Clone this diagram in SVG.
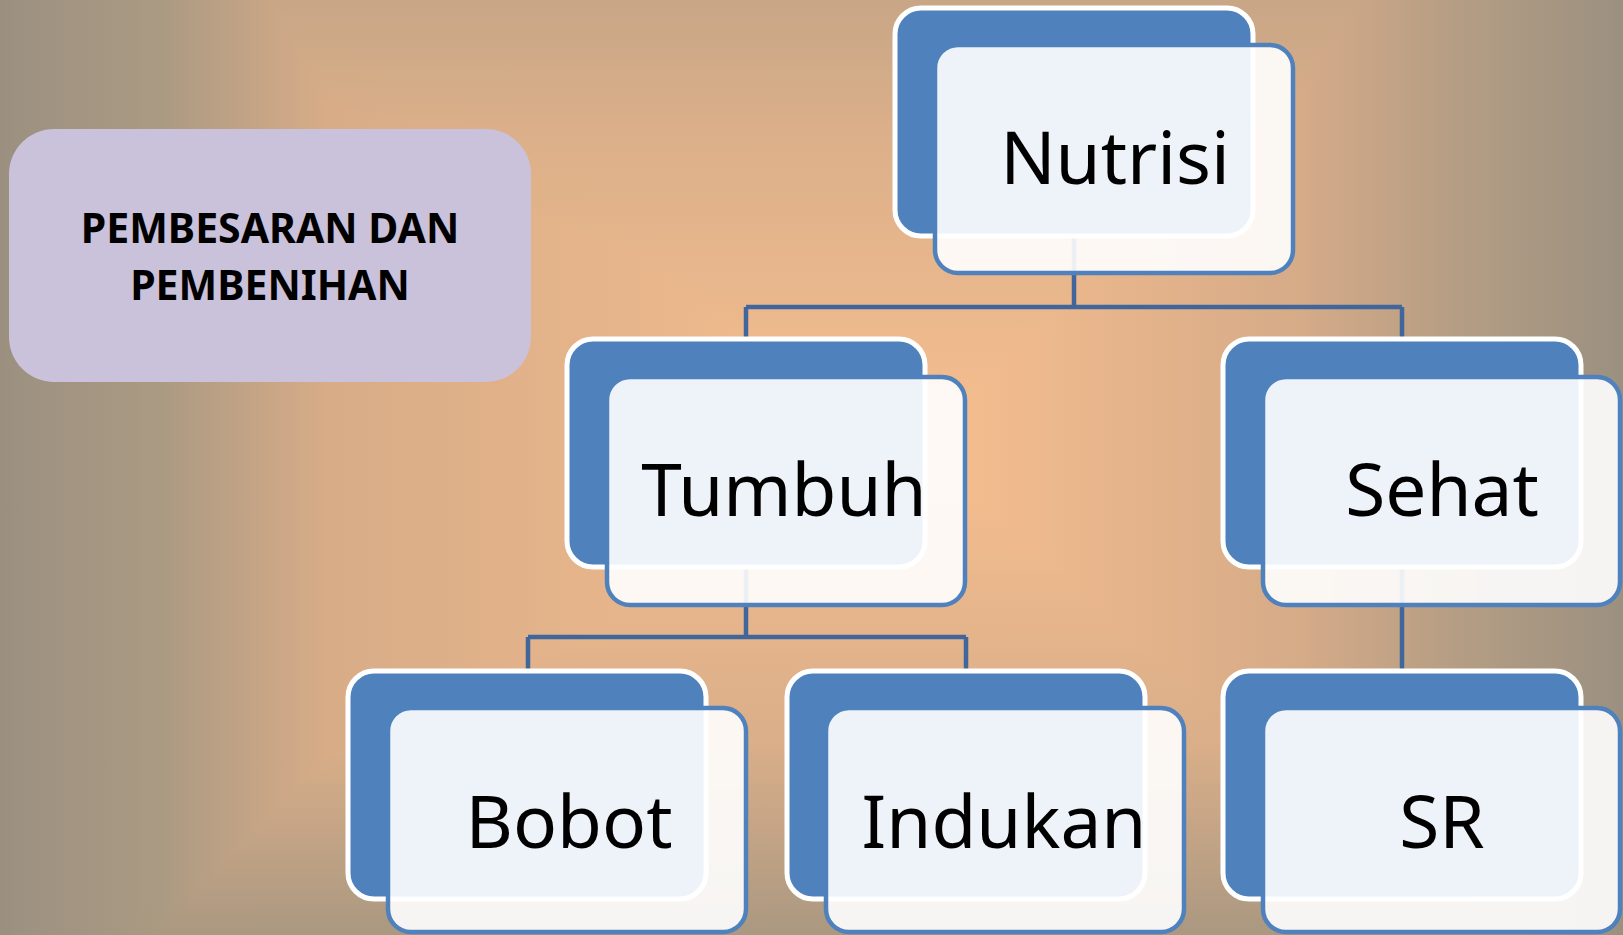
<svg xmlns="http://www.w3.org/2000/svg" width="1623" height="935" viewBox="0 0 1623 935">
<defs>
<linearGradient id="gh" gradientUnits="userSpaceOnUse" x1="0" y1="0" x2="1623" y2="0">
<stop offset="0" stop-color="#9b9080"/>
<stop offset="0.1" stop-color="#ab9a83"/>
<stop offset="0.2" stop-color="#d7ac87"/>
<stop offset="0.57" stop-color="#f7be8f"/>
<stop offset="0.8" stop-color="#d6ab88"/>
<stop offset="0.9" stop-color="#b49d84"/>
<stop offset="1" stop-color="#9b9080"/>
</linearGradient>
<linearGradient id="gv" gradientUnits="userSpaceOnUse" x1="0" y1="0" x2="0" y2="935">
<stop offset="0" stop-color="#c8a686"/>
<stop offset="0.15" stop-color="#dcb08a"/>
<stop offset="0.48" stop-color="#f7be8f"/>
<stop offset="0.8" stop-color="#d9ae89"/>
<stop offset="1" stop-color="#aa9881"/>
</linearGradient>
<style>
.back{fill:#4f81bd;stroke:#ffffff;stroke-width:5}
.front{fill:#ffffff;fill-opacity:0.9;stroke:#4f81bd;stroke-width:4.5}
.lbl{font-family:"Noto Sans","Open Sans",sans-serif;font-size:73px;fill:#000000;text-anchor:middle}
.conn{fill:none;stroke:#41669b;stroke-width:4.5}
.title{font-family:"Noto Sans","Open Sans",sans-serif;font-size:41px;font-weight:bold;fill:#000000;text-anchor:middle}
</style>
</defs>
<g id="background" style="isolation:isolate">
<rect x="0" y="0" width="1623" height="935" fill="url(#gv)"/>
<rect x="0" y="0" width="1623" height="935" fill="url(#gh)" style="mix-blend-mode:darken"/>
</g>
<g id="title-box">
<rect x="9" y="129" width="522" height="253" rx="45" fill="#cac1da"/>
<text class="title" x="270" y="243">PEMBESARAN DAN</text>
<text class="title" x="270" y="300">PEMBENIHAN</text>
</g>
<g id="connectors">
<path class="conn" d="M1074 236 V307 M746 307 H1402 M746 307 V339 M1402 307 V339"/>
<path class="conn" d="M746 567 V637 M528 637 H966 M528 637 V671 M966 637 V671"/>
<path class="conn" d="M1402 567 V671"/>
</g>
<g id="node-nutrisi">
<rect class="back" x="895" y="8" width="358" height="228" rx="26"/>
<rect class="front" x="935" y="45" width="358" height="228" rx="23"/>
<text class="lbl" x="1115" y="184">Nutrisi</text>
</g>
<g id="node-tumbuh">
<rect class="back" x="567" y="339" width="358" height="228" rx="26"/>
<rect class="front" x="607" y="377" width="358" height="228" rx="23"/>
<text class="lbl" x="784" y="516">Tumbuh</text>
</g>
<g id="node-sehat">
<rect class="back" x="1223" y="339" width="358" height="228" rx="26"/>
<rect class="front" x="1263" y="377" width="357" height="228" rx="23"/>
<text class="lbl" x="1442" y="516">Sehat</text>
</g>
<g id="node-bobot">
<rect class="back" x="348" y="671" width="358" height="228" rx="26"/>
<rect class="front" x="388" y="708" width="358" height="224" rx="23"/>
<text class="lbl" x="569" y="848">Bobot</text>
</g>
<g id="node-indukan">
<rect class="back" x="787" y="671" width="358" height="228" rx="26"/>
<rect class="front" x="826" y="708" width="358" height="224" rx="23"/>
<text class="lbl" x="1004" y="848">Indukan</text>
</g>
<g id="node-sr">
<rect class="back" x="1223" y="671" width="358" height="228" rx="26"/>
<rect class="front" x="1263" y="708" width="357" height="224" rx="23"/>
<text class="lbl" x="1442" y="848">SR</text>
</g>
</svg>
